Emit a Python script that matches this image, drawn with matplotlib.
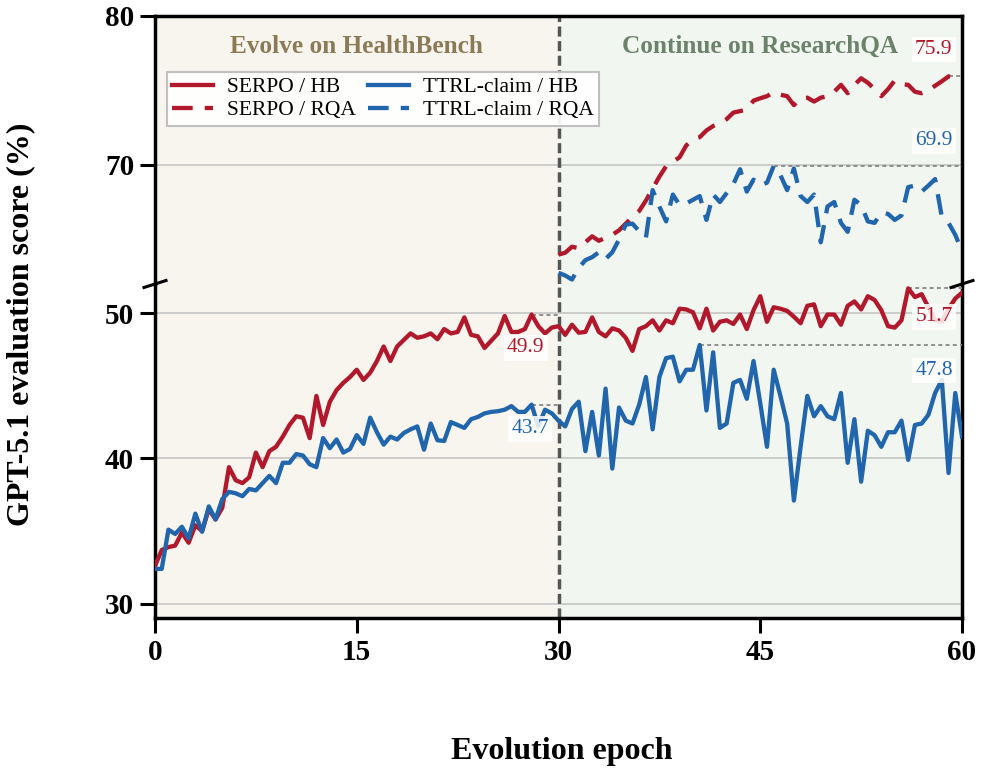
import numpy as np
import matplotlib
matplotlib.use("Agg")
import matplotlib.pyplot as plt
from matplotlib.lines import Line2D

plt.rcParams['font.family'] = ['Liberation Serif', 'DejaVu Serif']

# ---------------- data ----------------
EPOCHS = np.arange(0, 60.5, 0.5)          # evaluation every half epoch
EPOCHS_RQA = np.arange(30, 60.5, 0.5)

SERPO_HB = [
    32.6, 33.7, 33.9, 34.0, 34.9, 34.2, 35.4, 35.0, 36.5, 35.8,
    36.6, 39.4, 38.5, 38.3, 38.7, 40.4, 39.4, 40.5, 40.8, 41.5,
    42.3, 42.9, 42.8, 41.4, 44.3, 42.3, 43.9, 44.7, 45.2, 45.6,
    46.1, 45.4, 45.9, 46.7, 47.7, 46.7, 47.7, 48.15, 48.6, 48.3,
    48.4, 48.6, 48.2, 48.9, 48.6, 48.7, 49.7, 48.5, 48.4, 47.6,
    48.1, 48.6, 49.8, 48.7, 48.7, 48.9, 49.9, 49.1, 48.6, 49.0,
    49.1, 48.5, 49.2, 48.65, 48.7, 49.7, 48.7, 48.4, 48.95, 48.8,
    48.3, 47.4, 48.9, 49.1, 49.5, 48.8, 49.5, 49.3, 50.3, 50.25,
    50.05, 48.95, 50.3, 48.8, 49.4, 49.5, 49.25, 49.9, 48.9, 50.2,
    51.16, 49.4, 50.4, 50.3, 50.15, 49.75, 49.3, 50.5, 50.6, 49.1,
    49.9, 49.9, 49.2, 50.5, 50.8, 50.25, 51.16, 50.9, 50.2, 49.1,
    49.0, 49.5, 51.7, 51.1, 51.3, 50.4, 49.5, 49.4, 50.3, 51.0,
    51.4,
]

TTRL_HB = [
    32.4, 32.4, 35.1, 34.8, 35.3, 34.5, 36.2, 34.95, 36.7, 35.8,
    37.2, 37.7, 37.6, 37.4, 37.9, 37.8, 38.3, 38.8, 38.3, 39.7,
    39.7, 40.3, 40.2, 39.6, 39.4, 41.4, 40.7, 41.3, 40.4, 40.65,
    41.6, 41.0, 42.8, 41.8, 40.95, 41.5, 41.3, 41.75, 42.0, 42.2,
    40.6, 42.4, 41.25, 41.2, 42.5, 42.3, 42.1, 42.7, 42.85, 43.1,
    43.2, 43.25, 43.35, 43.6, 43.2, 43.2, 43.7, 42.2, 43.35, 43.1,
    42.6, 42.2, 43.4, 43.9, 40.5, 43.2, 40.2, 44.8, 39.3, 43.5,
    42.6, 42.4, 43.7, 45.6, 42.0, 45.6, 46.9, 47.0, 45.3, 46.1,
    46.1, 47.8, 43.3, 47.3, 42.1, 42.4, 45.2, 45.4, 44.1, 46.7,
    43.8, 40.8, 46.1, 44.3, 42.4, 37.1, 40.8, 44.3, 42.9, 43.6,
    42.9, 42.7, 44.5, 39.7, 42.7, 38.4, 41.9, 41.6, 40.8, 41.8,
    41.8, 42.6, 39.9, 42.3, 42.4, 43.0, 44.5, 45.4, 39.0, 44.5,
    41.5,
]

SERPO_RQA = [
    63.97, 64.1, 64.5, 64.4, 64.8, 65.2, 64.9, 65.1, 65.3, 65.6,
    66.05, 66.5, 66.9, 67.6, 68.4, 69.2, 69.9, 70.2, 70.5, 71.3,
    71.7, 71.85, 72.3, 72.6, 72.8, 73.06, 73.5, 73.6, 73.7, 74.3,
    74.46, 74.6, 74.87, 74.7, 74.6, 74.0, 74.46, 74.5, 74.24, 74.5,
    74.6, 74.9, 75.36, 74.8, 75.36, 75.8, 75.5, 75.07, 74.6, 75.07,
    75.65, 75.4, 75.36, 74.9, 74.8, 75.0, 75.3, 75.6, 75.93, 75.85,
    75.8,
]

TTRL_RQA = [
    62.75, 62.57, 62.3, 63.08, 63.6, 63.8, 64.13, 63.68, 64.13, 64.98,
    65.98, 66.05, 65.54, 65.1, 68.3, 67.2, 66.2, 68.0, 67.3, 67.4,
    67.65, 67.9, 66.3, 68.0, 67.5, 68.1, 68.7, 69.7, 68.2, 69.0,
    68.6, 68.8, 69.92, 69.3, 68.3, 69.75, 67.9, 67.5, 68.0, 64.8,
    67.2, 67.5, 66.1, 65.5, 67.65, 67.3, 66.2, 66.1, 66.8, 66.7,
    66.3, 66.6, 68.5, 68.6, 68.2, 68.6, 69.04, 66.5, 66.1, 65.3,
    64.2,
]

PHASE_LABELS = ["Evolve on HealthBench", "Continue on ResearchQA"]
PHASE_BOUNDS = [0, 30, 60]
X_TICKS = [0, 15, 30, 45, 60]
Y_TICKS_LO = [30, 40, 50]
Y_TICKS_HI = [70, 80]

# ---------------- style ----------------
RED = '#B2182B'
BLUE = '#2166AC'
BG = ['#F8F5EE', '#F2F6F0']
PHASE_COLORS = ['#8B7A55', '#6B836B']
DASH = (0, (4.8, 2.8))

fig = plt.figure(figsize=(9.83, 7.76), dpi=100)
W, H = 983.0, 776.0
left, right = 155 / W, 962 / W
y_bot, y_mid, y_top = 1 - 618.3 / H, 1 - 284 / H, 1 - 15.7 / H
ax_lo = fig.add_axes([left, y_bot, right - left, y_mid - y_bot])
ax_hi = fig.add_axes([left, y_mid, right - left, y_top - y_mid], sharex=ax_lo)

for ax in (ax_lo, ax_hi):
    for i in range(2):
        ax.axvspan(PHASE_BOUNDS[i], PHASE_BOUNDS[i + 1], color=BG[i], zorder=0, lw=0)
    ax.axvline(30, color='#555555', lw=2.5, ls=(0, (2.9, 1.3)), zorder=2.5)
    ax.set_axisbelow(True)
    ax.yaxis.grid(True, color='#CCCCCC', lw=1.4, zorder=0.5)
    ax.set_facecolor('white')
    for s in ax.spines.values():
        s.set_linewidth(2.5)
    ax.tick_params(axis='both', length=11, width=2.2, labelsize=21, pad=4, direction='out')

ax_lo.spines['top'].set_visible(False)
ax_hi.spines['bottom'].set_visible(False)
ax_hi.tick_params(axis='x', bottom=False, labelbottom=False)

ax_lo.set_xlim(0, 60)
ax_lo.set_ylim(29, 52)
ax_hi.set_ylim(62, 80)
ax_lo.set_xticks(X_TICKS)
ax_lo.set_yticks(Y_TICKS_LO)
ax_hi.set_yticks(Y_TICKS_HI)
for lab in ax_lo.get_xticklabels() + ax_lo.get_yticklabels() + ax_hi.get_yticklabels():
    lab.set_fontweight('bold')

LW = 3.1
ax_lo.plot(EPOCHS, SERPO_HB, color=RED, lw=LW, zorder=3)
ax_lo.plot(EPOCHS, TTRL_HB, color=BLUE, lw=LW, zorder=3)
ax_hi.plot(EPOCHS_RQA, SERPO_RQA, color=RED, lw=LW, ls=DASH, zorder=3)
ax_hi.plot(EPOCHS_RQA, TTRL_RQA, color=BLUE, lw=LW, ls=DASH, zorder=3)


def mark_peak(ax, x, y, lo, hi, color, off):
    x = np.asarray(x, float)
    y = np.asarray(y, float)
    m = (x >= lo) & (x <= hi)
    xs, ys = x[m], y[m]
    i = int(np.argmax(ys))
    ax.plot([xs[i], hi], [ys[i], ys[i]], color='#888888', lw=1.3,
            ls=(0, (2.2, 1.8)), zorder=2.8)
    ax.annotate(f'{ys[i]:.1f}', xy=(hi, ys[i]), xytext=off, textcoords='offset points',
                ha='right', va='center', color=color, fontsize=15.5, zorder=6,
                bbox=dict(boxstyle='square,pad=0.15', fc='white', ec='none', alpha=0.85))


mark_peak(ax_lo, EPOCHS, SERPO_HB, 0, 30, RED, (-10, -24))
mark_peak(ax_lo, EPOCHS, TTRL_HB, 0, 30, BLUE, (-7, -17.5))
mark_peak(ax_lo, EPOCHS, SERPO_HB, 30, 60, RED, (-6.5, -20.5))
mark_peak(ax_lo, EPOCHS, TTRL_HB, 30, 60, BLUE, (-6.5, -18.5))
mark_peak(ax_hi, EPOCHS_RQA, SERPO_RQA, 30, 60, RED, (-7, 19.5))
mark_peak(ax_hi, EPOCHS_RQA, TTRL_RQA, 30, 60, BLUE, (-7, 18))

# phase titles
for i in range(2):
    ax_hi.text((PHASE_BOUNDS[i] + PHASE_BOUNDS[i + 1]) / 2, 0.885, PHASE_LABELS[i],
               transform=ax_hi.get_xaxis_transform(), ha='center', va='center',
               fontsize=18.2, fontweight='bold', color=PHASE_COLORS[i], zorder=6)

# legend
handles = [
    Line2D([], [], color=RED, lw=LW),
    Line2D([], [], color=RED, lw=LW, ls=DASH),
    Line2D([], [], color=BLUE, lw=LW),
    Line2D([], [], color=BLUE, lw=LW, ls=DASH),
]
labels = ['SERPO / HB', 'SERPO / RQA', 'TTRL-claim / HB', 'TTRL-claim / RQA']
leg = ax_hi.legend(handles, labels, ncol=2, loc='upper left',
                   bbox_to_anchor=(0.0149, 0.790), borderaxespad=0,
                   fontsize=15.5, frameon=True, fancybox=False, framealpha=0.92,
                   edgecolor='#BBBBBB', handlelength=1.9, handletextpad=0.65,
                   columnspacing=0.55, labelspacing=0.12, borderpad=0.25)
leg.get_frame().set_linewidth(1.5)
leg.set_zorder(7)

# break marks
for xf in (left, right):
    fig.add_artist(Line2D([xf - 11 / W, xf + 11 / W], [y_mid - 3.5 / H, y_mid + 3.5 / H],
                          color='black', lw=2.2, transform=fig.transFigure))

# axis labels
fig.text(562 / W, 1 - 752 / H, 'Evolution epoch', ha='center', va='center',
         fontsize=23, fontweight='bold')
fig.text(21 / W, 1 - 324 / H, 'GPT-5.1 evaluation score (%)', ha='center', va='center',
         rotation=90, fontsize=23, fontweight='bold')

fig.savefig('out.png', dpi=100)
